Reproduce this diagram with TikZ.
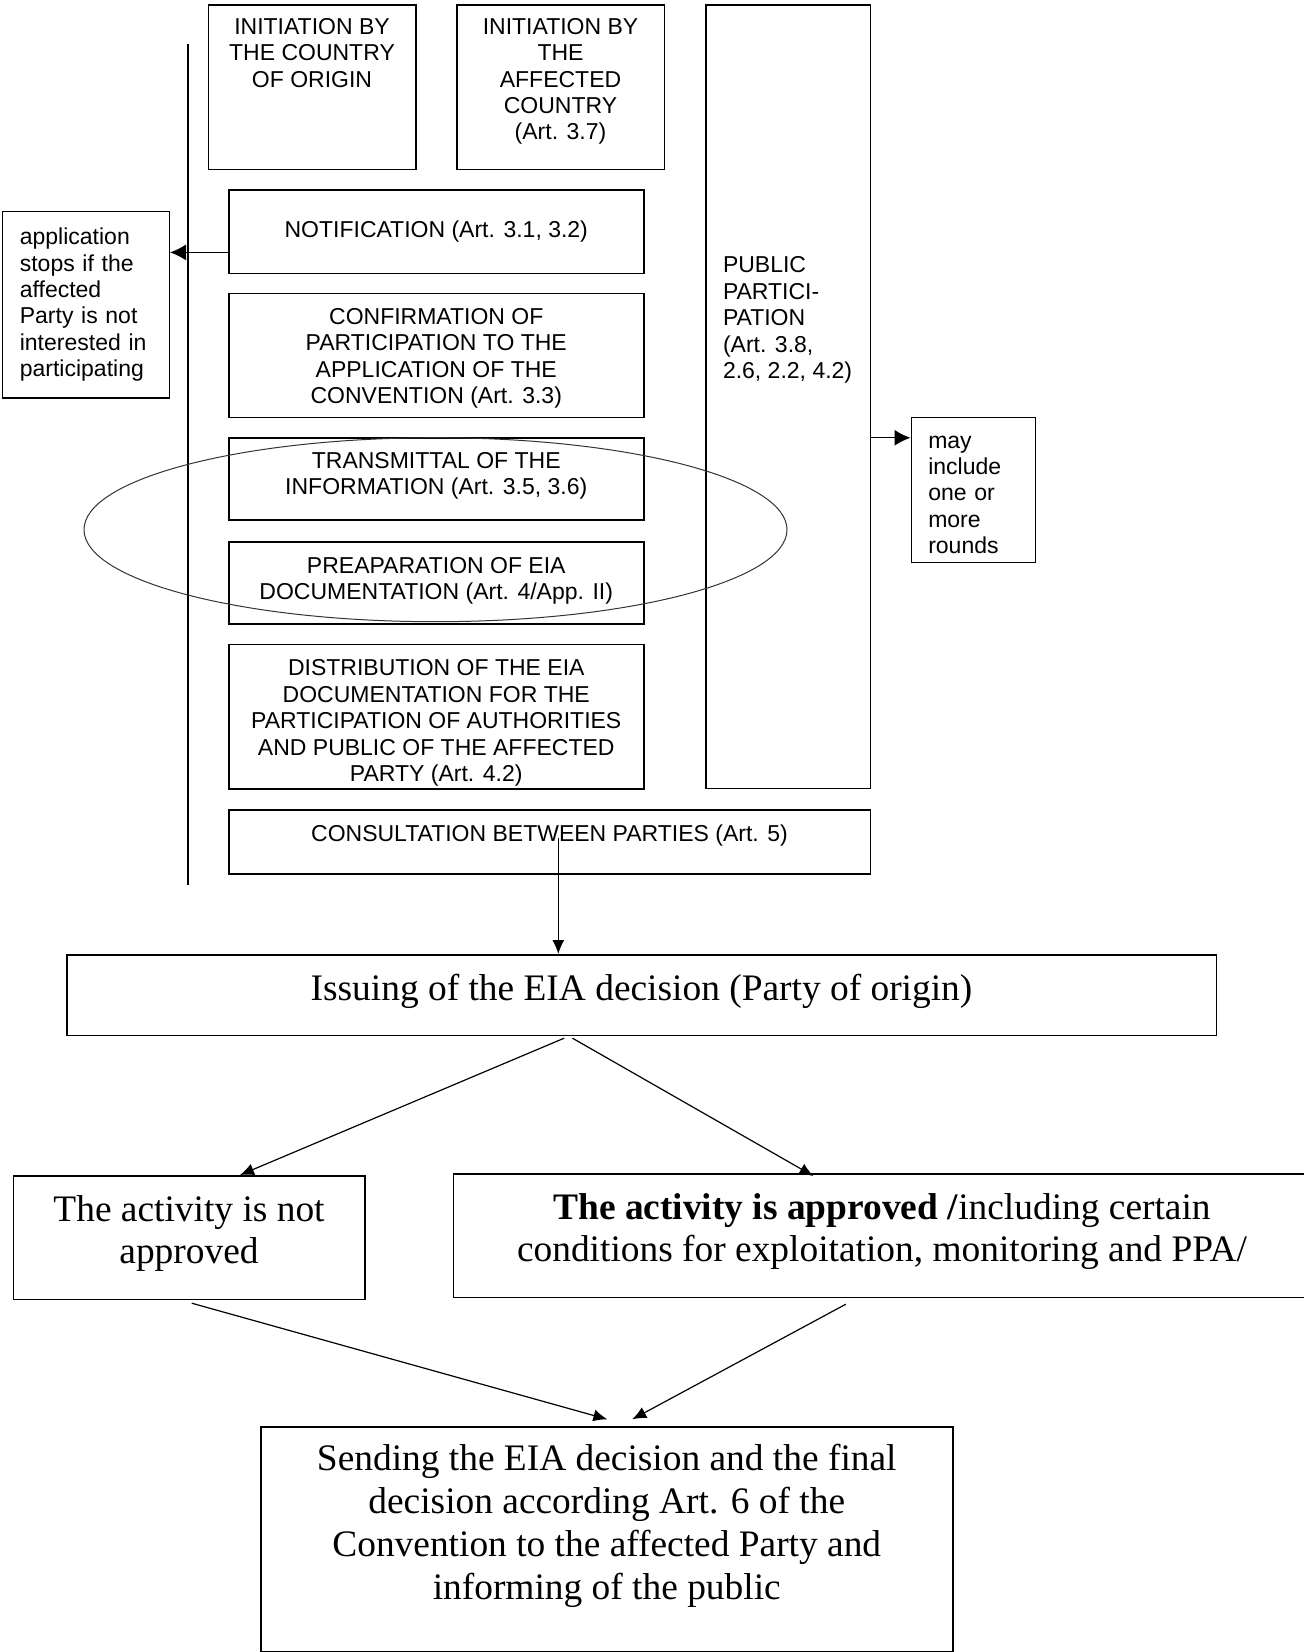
\documentclass[tikz,border=0pt]{standalone}
\usepackage{fontspec}
\setmainfont{Liberation Serif}
\newfontfamily\arialf{Liberation Sans}
\usetikzlibrary{arrows.meta}
\newcommand{\smallsans}{\arialf\fontsize{11.5}{13.2}\selectfont}
\newcommand{\bigserif}{\fontsize{18.7}{21.4}\selectfont}

\begin{document}
\begin{tikzpicture}[x=0.5pt, y=-0.5pt,
    stage/.style={draw, line width=0.75pt, inner sep=0pt, anchor=north west, align=center, font=\smallsans},
    verdict/.style={draw, line width=0.75pt, inner sep=0pt, anchor=north west, align=center, font=\bigserif},
    sidearrow/.style={-{Latex[length=8pt, width=8pt]}, line width=0.6pt},
    flowarrow/.style={-{Latex[length=7pt, width=6pt]}, line width=0.6pt},
    rail/.style={line width=0.75pt}]
    \useasboundingbox (0,0) rectangle (1303,1652);

    % 1. Initiation and public participation
    \node[stage] (orig) at (207.5,4.3) {\parbox[c][82.35pt][t]{103.75pt}{\centering\rule{0pt}{14.6pt}INITIATION BY\\ THE COUNTRY\\ OF ORIGIN}};
    \node[stage] (affct) at (456,4.3) {\parbox[c][82.35pt][t]{103.75pt}{\centering\rule{0pt}{14.6pt}INITIATION BY\\ THE\\ AFFECTED\\ COUNTRY\\ (Art. 3.7)}};
    \node[stage, minimum width=82.25pt] (pub) at (705,4.3) {\parbox[c][391.6pt][t]{65pt}{\raggedright\rule{0pt}{133.9pt}PUBLIC\\ PARTICI-\\ PATION\\ (Art. 3.8,\\ 2.6, 2.2, 4.2)}};

    % 2. Steps of the procedure
    \node[stage, minimum width=207.5pt, minimum height=41.75pt] (notif) at (228,189.5) {NOTIFICATION (Art. 3.1, 3.2)};
    \node[stage, minimum width=207.5pt, minimum height=62pt] (conf) at (228,293) {\rule{0pt}{10.8pt}CONFIRMATION OF\\ PARTICIPATION TO THE\\ APPLICATION OF THE\\ CONVENTION (Art. 3.3)};
    \node[stage, minimum width=207.5pt, minimum height=41pt] (trans) at (228,437.3) {TRANSMITTAL OF THE\\ INFORMATION (Art. 3.5, 3.6)\rule[-5.6pt]{0pt}{1pt}};
    \node[stage, minimum width=207.5pt, minimum height=41.15pt] (prep) at (228,541) {PREAPARATION OF EIA\\ DOCUMENTATION (Art. 4/App. II)\rule[-4.5pt]{0pt}{1pt}};
    \node[stage, minimum width=207.5pt, minimum height=72.25pt] (distr) at (228,643.5) {\rule{0pt}{14.6pt}DISTRIBUTION OF THE EIA\\ DOCUMENTATION FOR THE\\ PARTICIPATION OF AUTHORITIES\\ AND PUBLIC OF THE AFFECTED\\ PARTY (Art. 4.2)};
    \node[stage] (consult) at (228,809) {\parbox[c][32pt][t]{320.75pt}{\centering\rule{0pt}{16.1pt}CONSULTATION BETWEEN PARTIES (Art. 5)}};

    % 3. Side notes
    \node[stage, align=left, text width=65.9pt, minimum width=83.5pt, minimum height=93.3pt] (stop) at (1.5,210.7) {application\\ stops if the\\ affected\\ Party is not\\ interested in\\ participating};
    \node[stage, align=left, text width=45pt, minimum width=62pt, minimum height=72.25pt] (rounds) at (910.5,417) {\rule{0pt}{11pt}may\\ include\\ one or\\ more\\ rounds};

    % 4. Rail and ellipse
    \coordinate (railtop) at (188,44.3);
    \coordinate (railbot) at (188,885);
    \draw[rail] (railtop) -- (railbot);
    \draw[black!80, line width=0.5pt] (435.5,529.7) ellipse [x radius=175.75pt, y radius=46pt];

    % 5. Decision
    \node[verdict, minimum width=574.75pt, minimum height=40.35pt] (issue) at (66,954) {Issuing of the EIA decision (Party of origin)\rule[-8pt]{0pt}{1pt}};
    \node[verdict, minimum width=175.75pt, minimum height=61.85pt] (notap) at (12.5,1175) {The activity is not\\ approved\rule[-8pt]{0pt}{1pt}};
    \node[verdict, minimum width=428.75pt, minimum height=61.85pt] (approv) at (452.5,1173) {\textbf{The activity is approved /}including certain\\ conditions for exploitation, monitoring and PPA/\rule[-8pt]{0pt}{1pt}};
    \node[verdict] (send) at (260,1426) {\parbox[c][112.4pt][t]{346pt}{\centering\rule{0pt}{22pt}Sending the EIA decision and the final\\ decision according Art. 6 of the\\ Convention to the affected Party and\\ informing of the public}};

    % 6. Arrows
    \coordinate (nx) at ([yshift=-10.2pt]notif.west);
    \draw[sidearrow] (nx) -- (nx -| stop.east);
    \coordinate (px) at ([yshift=26.1pt]rounds.west);
    \draw[sidearrow] (px -| pub.east) -- (px);
    \coordinate (cx) at ([xshift=4.4pt, yshift=2pt]consult.center);
    \draw[flowarrow] (cx) -- (cx |- issue.north);
    \draw[flowarrow] ([xshift=-38.7pt, yshift=-1pt]issue.south) -- ([xshift=25.5pt]notap.north);
    \draw[flowarrow] ([xshift=-34.5pt, yshift=-1pt]issue.south) -- ([xshift=-34.3pt, yshift=-1.5pt]approv.north);
    \draw[flowarrow] ([xshift=1.4pt, yshift=-1.5pt]notap.south) -- ([xshift=0.3pt, yshift=3.35pt]send.north);
    \draw[flowarrow] ([xshift=-18.1pt, yshift=-3pt]approv.south) -- ([xshift=12.75pt, yshift=3.35pt]send.north);
\end{tikzpicture}
\end{document}
